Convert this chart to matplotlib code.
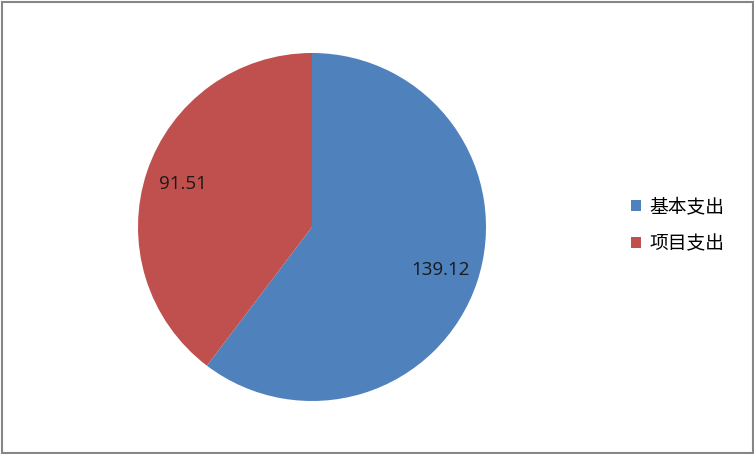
import matplotlib
matplotlib.use("Agg")
import matplotlib.pyplot as plt
from matplotlib.patches import Rectangle, Patch

categories = ["基本支出", "项目支出"]
values = [139.12, 91.51]
colors = ["#4F81BD", "#C0504D"]

plt.rcParams['font.family'] = ['Noto Sans CJK SC', 'DejaVu Sans']

W, H = 754, 454
fig = plt.figure(figsize=(W / 100, H / 100), dpi=100)
fig.patch.set_facecolor("white")

cx, cy, r = 312, 227, 174
ax = fig.add_axes([(cx - r) / W, (H - cy - r) / H, 2 * r / W, 2 * r / H])
total = sum(values)
wedges, texts, autotexts = ax.pie(
    values, colors=colors, startangle=90, counterclock=False,
    radius=1, autopct=lambda p: f"{p * total / 100:.2f}", pctdistance=0.78,
    wedgeprops=dict(linewidth=0),
    textprops=dict(fontsize=13.5, color="#1a1a1a", family=['Open Sans', 'DejaVu Sans']))
ax.set_xlim(-1, 1)
ax.set_ylim(-1, 1)
ax.set_aspect('equal')
ax.axis('off')

handles = [Patch(facecolor=c, edgecolor='none') for c in colors]
fig.legend(handles, categories, loc='center left',
           bbox_to_anchor=(614 / W, 1 - 225 / H), frameon=False,
           fontsize=13.5, handlelength=0.55, handleheight=0.55,
           handletextpad=0.45, labelspacing=0.85)

fig.add_artist(Rectangle((1.5 / W, 1.5 / H), (W - 3) / W, (H - 3) / H,
                         transform=fig.transFigure, fill=False,
                         edgecolor="#868686", linewidth=1.5))

fig.savefig("out.png", dpi=100)
